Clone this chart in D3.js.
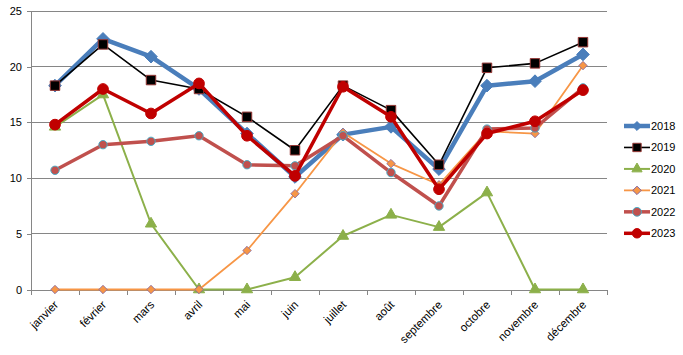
<!DOCTYPE html>
<html><head><meta charset="utf-8">
<script src="https://cdn.jsdelivr.net/npm/d3@7"></script>
<style>body{margin:0;background:#fff}svg{display:block;font-family:"Liberation Sans",Arial,sans-serif}</style>
</head><body><svg id="c" width="683" height="355"></svg>
<script>
const months = ["janvier","février","mars","avril","mai","juin","juillet","août","septembre","octobre","novembre","décembre"];
const yTicks = [0,5,10,15,20,25];
const s2018 = [18.3,22.5,20.9,18.0,14.0,10.1,13.9,14.6,10.8,18.3,18.7,21.1];
const s2019 = [18.3,22.0,18.8,18.0,15.5,12.5,18.3,16.1,11.2,19.9,20.3,22.2];
const s2020 = [14.6,17.5,5.9,0,0,1.1,4.8,6.7,5.6,8.7,0,0];
const s2021 = [0,0,0,0,3.5,8.6,14.1,11.3,9.4,14.2,14.0,20.1];
const s2022 = [10.7,13.0,13.3,13.8,11.2,11.1,13.8,10.5,7.5,14.4,14.5,18.1];
const s2023 = [14.8,18.0,15.8,18.5,13.8,10.2,18.2,15.5,9.0,14.0,15.1,17.9];
const seriesNames = ["2018","2019","2020","2021","2022","2023"];

const symDiamond = {draw(ctx,size){const r=Math.sqrt(size/2);ctx.moveTo(0,-r);ctx.lineTo(r,0);ctx.lineTo(0,r);ctx.lineTo(-r,0);ctx.closePath();}};
const styles = {
 "2018":{line:"#4A7EBB",w:4.5,sym:symDiamond,size:80,fill:"#4A7EBB",stroke:"#4A7EBB",sw:1,lsize:40},
 "2019":{line:"#000000",w:1.6,sym:d3.symbolSquare,size:90,fill:"#000000",stroke:"#953735",sw:1,lsize:70},
 "2020":{line:"#8CB04A",w:2,sym:d3.symbolTriangle,size:55,fill:"#8CB04A",stroke:"#8CB04A",sw:1,lsize:45},
 "2021":{line:"#F79646",w:1.8,sym:symDiamond,size:36,fill:"#F79646",stroke:"#8064A2",sw:0.8,lsize:36},
 "2022":{line:"#C0504D",w:3.5,sym:d3.symbolCircle,size:55,fill:"#C0504D",stroke:"#4BACC6",sw:1,lsize:60},
 "2023":{line:"#C00000",w:3.5,sym:d3.symbolCircle,size:90,fill:"#C00000",stroke:"#C00000",sw:1,lsize:70}
};
const data = {"2018":s2018,"2019":s2019,"2020":s2020,"2021":s2021,"2022":s2022,"2023":s2023};

const svg = d3.select("#c");
const L=31,R=607,T=11,B=289.5;
const x = d3.scaleBand().domain(months).range([L,R]);
const y = d3.scaleLinear().domain([0,25]).range([B,T]);

svg.append("g").selectAll("line").data(yTicks.filter(t=>t>0)).join("line")
 .attr("x1",L).attr("x2",R).attr("y1",d=>y(d)).attr("y2",d=>y(d))
 .attr("stroke","#868686").attr("stroke-width",1).attr("shape-rendering","crispEdges");

const ya = svg.append("g").attr("transform",`translate(${L},0)`)
 .call(d3.axisLeft(y).tickValues(yTicks).tickSize(4).tickPadding(5));
ya.select(".domain").attr("stroke","#868686").attr("shape-rendering","crispEdges");
ya.selectAll(".tick line").attr("stroke","#868686").attr("shape-rendering","crispEdges");
ya.selectAll("text").attr("font-size","11px").attr("fill","#000");

const xa = svg.append("g").attr("transform",`translate(0,${B})`)
 .call(d3.axisBottom(x).tickSize(0).tickPadding(0));
xa.select(".domain").attr("stroke","#868686").attr("shape-rendering","crispEdges");
xa.selectAll(".tick text").attr("font-size","11.5px").attr("fill","#000")
 .attr("text-anchor","end").attr("dy",0).attr("transform","translate(4,16) rotate(-45)");
const bounds = months.map(m=>x(m)).concat([R]);
svg.append("g").selectAll("line").data(bounds).join("line")
 .attr("x1",d=>d).attr("x2",d=>d).attr("y1",B).attr("y2",B+5)
 .attr("stroke","#868686").attr("shape-rendering","crispEdges");

const cx = m=>x(m)+x.bandwidth()/2;
const line = d3.line().x((d,i)=>cx(months[i])).y(d=>y(d));

seriesNames.forEach(n=>{
 const st=styles[n], vals=data[n];
 const g=svg.append("g");
 g.append("path").datum(vals).attr("d",line).attr("fill","none")
  .attr("stroke",st.line).attr("stroke-width",st.w).attr("stroke-linejoin","round");
 g.selectAll("path.m").data(vals).join("path").attr("class","m")
  .attr("d",d3.symbol().type(st.sym).size(st.size))
  .attr("transform",(d,i)=>`translate(${cx(months[i])},${y(d)})`)
  .attr("fill",st.fill).attr("stroke",st.stroke).attr("stroke-width",st.sw);
});

const legY = d3.scalePoint().domain(seriesNames).range([126,233.3]);
const lg = svg.append("g");
seriesNames.forEach(n=>{
 const st=styles[n], yy=legY(n);
 lg.append("line").attr("x1",624).attr("x2",650).attr("y1",yy).attr("y2",yy)
  .attr("stroke",st.line).attr("stroke-width",st.w);
 lg.append("path").attr("d",d3.symbol().type(st.sym).size(st.lsize))
  .attr("transform",`translate(637,${yy})`).attr("fill",st.fill).attr("stroke",st.stroke);
 lg.append("text").attr("x",651).attr("y",yy).attr("dy","0.35em").attr("font-size","11px").text(n);
});
</script></body></html>
